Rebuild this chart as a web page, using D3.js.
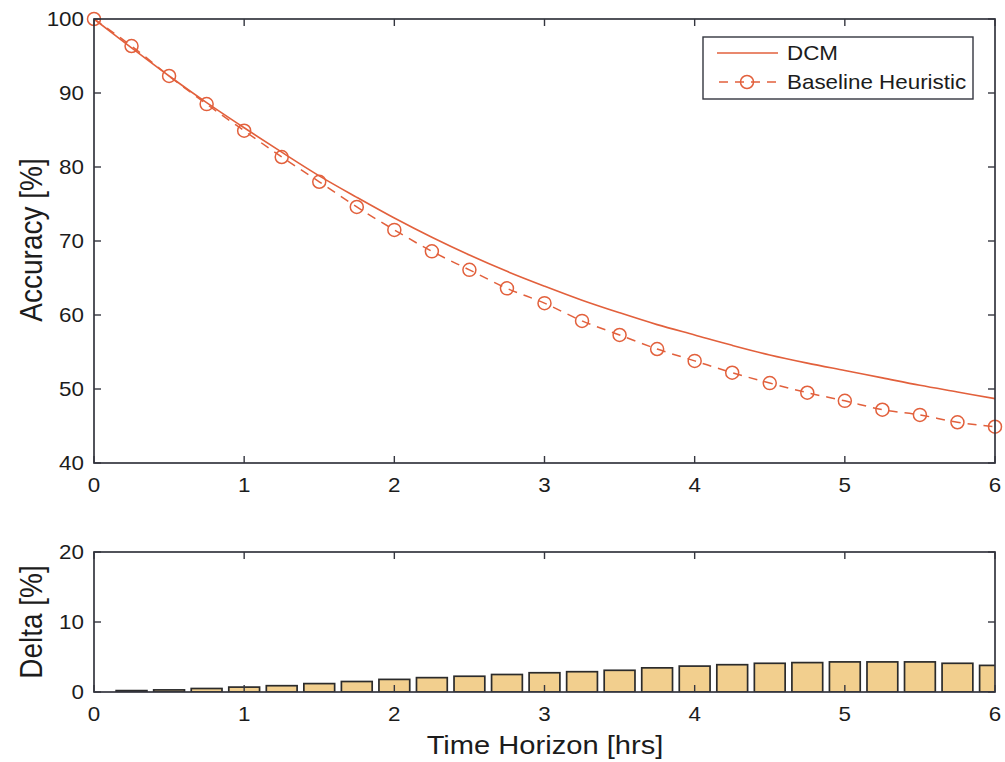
<!DOCTYPE html>
<html><head><meta charset="utf-8">
<script src="https://cdn.jsdelivr.net/npm/d3@7"></script>
<style>
body{margin:0;background:#fff;}
text{font-family:"Liberation Sans",Arial,sans-serif;fill:#1c1c1c;}
</style></head>
<body>
<svg id="c" width="1005" height="762"></svg>
<script>
const timeSteps = [0,0.25,0.5,0.75,1,1.25,1.5,1.75,2,2.25,2.5,2.75,3,3.25,3.5,3.75,4,4.25,4.5,4.75,5,5.25,5.5,5.75,6];
const dcmValues = [100,96.1,92.3,88.7,85.3,82.0,78.8,75.9,73.1,70.5,68.1,65.9,63.9,62.0,60.3,58.7,57.3,55.9,54.6,53.5,52.5,51.5,50.5,49.6,48.7];
const baselineValues = [100,96.35,92.3,88.5,84.9,81.35,78.0,74.6,71.5,68.6,66.1,63.6,61.6,59.2,57.3,55.4,53.8,52.2,50.8,49.5,48.4,47.2,46.5,45.5,44.9];
const deltaTimes = [0.25,0.5,0.75,1,1.25,1.5,1.75,2,2.25,2.5,2.75,3,3.25,3.5,3.75,4,4.25,4.5,4.75,5,5.25,5.5,5.75,6];
const deltaValues = [0.2,0.3,0.5,0.7,0.9,1.2,1.5,1.8,2.05,2.25,2.5,2.75,2.9,3.1,3.45,3.7,3.9,4.1,4.2,4.3,4.3,4.3,4.1,3.8];
const xTicks = [0,1,2,3,4,5,6];
const accTicks = [40,50,60,70,80,90,100];
const deltaTicks = [0,10,20];
const seriesNames = ["DCM","Baseline Heuristic"];

const lineColor = "#e2603c";
const axisColor = "#34363f";
const SX = 1.12; // horizontal stretch of the scanned text
const svg = d3.select("#c");

const L = 94, R = 995;
const x = d3.scaleLinear().domain([0,6]).range([L,R]);
const yTop = d3.scaleLinear().domain([40,100]).range([463,19]);
const yBot = d3.scaleLinear().domain([0,20]).range([692,552]);

function label(g, tx, ty, str, size, anchor){
  return g.append("text")
    .attr("transform",`translate(${tx},${ty}) scale(${SX},1)`)
    .attr("text-anchor",anchor).attr("font-size",size).text(str);
}

function frame(y, ticks){
  const g = svg.append("g");
  const [b,t] = y.range();
  const tk = 7;
  xTicks.forEach(v=>{
    g.append("line").attr("x1",x(v)).attr("x2",x(v)).attr("y1",b).attr("y2",b-tk).attr("stroke",axisColor).attr("stroke-width",1.4);
    g.append("line").attr("x1",x(v)).attr("x2",x(v)).attr("y1",t).attr("y2",t+tk).attr("stroke",axisColor).attr("stroke-width",1.4);
    label(g, x(v), b+29, v, 20, "middle");
  });
  ticks.forEach(v=>{
    g.append("line").attr("x1",L).attr("x2",L+tk).attr("y1",y(v)).attr("y2",y(v)).attr("stroke",axisColor).attr("stroke-width",1.4);
    g.append("line").attr("x1",R).attr("x2",R-tk).attr("y1",y(v)).attr("y2",y(v)).attr("stroke",axisColor).attr("stroke-width",1.4);
    label(g, L-10, y(v)+7, v, 20, "end");
  });
  g.append("rect").attr("x",L).attr("y",t).attr("width",R-L).attr("height",b-t)
    .attr("fill","none").attr("stroke",axisColor).attr("stroke-width",1.7);
}

// top plot
const topData = timeSteps.map((t,i)=>({t, dcm:dcmValues[i], base:baselineValues[i]}));
svg.append("path").datum(topData)
  .attr("d", d3.line().x(d=>x(d.t)).y(d=>yTop(d.dcm)).curve(d3.curveCatmullRom))
  .attr("fill","none").attr("stroke",lineColor).attr("stroke-width",1.6);
svg.append("path").datum(topData)
  .attr("d", d3.line().x(d=>x(d.t)).y(d=>yTop(d.base)).curve(d3.curveMonotoneX))
  .attr("fill","none").attr("stroke",lineColor).attr("stroke-width",1.5).attr("stroke-dasharray","9,7");
svg.selectAll("circle.m").data(topData).enter().append("circle").attr("class","m")
  .attr("cx",d=>x(d.t)).attr("cy",d=>yTop(d.base)).attr("r",6.5)
  .attr("fill","none").attr("stroke",lineColor).attr("stroke-width",1.5);
frame(yTop, accTicks);

// legend
const lg = svg.append("g");
lg.append("rect").attr("x",703).attr("y",37).attr("width",270).attr("height",62).attr("fill","#fff").attr("stroke",axisColor).attr("stroke-width",1.4);
lg.append("line").attr("x1",717).attr("x2",778).attr("y1",53).attr("y2",53).attr("stroke",lineColor).attr("stroke-width",1.6);
label(lg, 787, 60, seriesNames[0], 20, "start");
lg.append("line").attr("x1",717).attr("x2",778).attr("y1",82).attr("y2",82).attr("stroke",lineColor).attr("stroke-width",1.5).attr("stroke-dasharray","9,7").attr("stroke-dashoffset",-2);
lg.append("circle").attr("cx",747).attr("cy",82).attr("r",6.5).attr("fill","none").attr("stroke",lineColor).attr("stroke-width",1.5);
label(lg, 787, 89, seriesNames[1], 20, "start");

// bottom plot
svg.append("clipPath").attr("id","clipBars").append("rect").attr("x",L).attr("y",552).attr("width",R-L).attr("height",140);
const bw = (x(0.25)-x(0))*0.82;
svg.append("g").attr("clip-path","url(#clipBars)")
  .selectAll("rect").data(deltaTimes.map((t,i)=>({t,v:deltaValues[i]}))).enter().append("rect")
  .attr("x",d=>x(d.t)-bw/2).attr("width",bw)
  .attr("y",d=>yBot(d.v)).attr("height",d=>yBot(0)-yBot(d.v))
  .attr("fill","#f2cf8e").attr("stroke","#2b2b2b").attr("stroke-width",1.7);
frame(yBot, deltaTicks);

// axis titles
svg.append("text").attr("transform",`translate(42,240) scale(${SX},1) rotate(-90)`).attr("text-anchor","middle").attr("font-size",28).text("Accuracy [%]");
svg.append("text").attr("transform",`translate(42,622) scale(${SX},1) rotate(-90)`).attr("text-anchor","middle").attr("font-size",28).text("Delta [%]");
label(svg, 545, 754, "Time Horizon [hrs]", 26, "middle");
</script>
</body></html>
